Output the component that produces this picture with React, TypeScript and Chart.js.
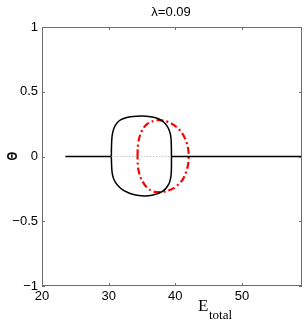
import React, { useEffect, useRef } from "react";
import { Chart, registerables } from "chart.js";

Chart.register(...registerables);

const xTicks = [20, 30, 40, 50];
const yTicks = [-1, -0.5, 0, 0.5, 1];

const axisLeftE = [23.5, 30.4];
const axisRightE = [39.42, 59];
const axisMidE = [30.4, 39.42];

const blackLoopE = [
  30.4, 30.42, 30.46, 30.55, 30.72, 30.98, 31.35, 31.85, 32.5, 33.3, 34.2, 35.1, 36.0, 36.9, 37.6, 38.2, 38.7, 39.05, 39.28, 39.38, 39.42,
  39.41, 39.35, 39.2, 38.95, 38.55, 38.0, 37.3, 36.5, 35.5, 34.5, 33.6, 32.8, 32.05, 31.45, 31.0, 30.7, 30.52, 30.44, 30.4,
];
const blackLoopTheta = [
  0, 0.07, 0.125, 0.17, 0.207, 0.238, 0.264, 0.284, 0.298, 0.307, 0.311, 0.312, 0.309, 0.301, 0.288, 0.268, 0.24, 0.207, 0.168, 0.12, 0,
  -0.1, -0.15, -0.188, -0.22, -0.248, -0.271, -0.288, -0.299, -0.305, -0.302, -0.292, -0.276, -0.255, -0.228, -0.198, -0.165, -0.125, -0.07, 0,
];

const redLoopE = [
  34.33, 34.37, 34.5, 34.75, 35.1, 35.7, 36.5, 37.4, 38.4, 39.4, 40.3, 40.95, 41.45, 41.8, 41.97, 42.0,
  41.95, 41.8, 41.5, 41.1, 40.5, 39.7, 38.75, 37.8, 36.9, 36.2, 35.6, 35.05, 34.7, 34.45, 34.35, 34.33,
];
const redLoopTheta = [
  0, 0.07, 0.125, 0.17, 0.21, 0.248, 0.271, 0.281, 0.275, 0.255, 0.222, 0.185, 0.14, 0.09, 0.04, 0,
  -0.05, -0.09, -0.136, -0.178, -0.213, -0.246, -0.266, -0.274, -0.273, -0.258, -0.232, -0.19, -0.15, -0.1, -0.05, 0,
];

const titleText = "λ=0.09";

const pts = (xs: number[], ys: number[]) => xs.map((x, i) => ({ x, y: ys[i] }));
const fmt = (v: number) => (v < 0 ? "\u2212" + String(-v) : String(v));

const framePlugin = {
  id: "frame",
  afterDraw(chart: any) {
    const { ctx, chartArea: a, scales } = chart;
    const xs = scales.x;
    const ys = scales.y;
    ctx.save();
    ctx.strokeStyle = "#6e6e6e";
    ctx.lineWidth = 1;
    ctx.strokeRect(Math.round(a.left) + 0.5, Math.round(a.top) + 0.5, Math.round(a.right - a.left) - 1, Math.round(a.bottom - a.top) - 1);
    ctx.beginPath();
    const tl = 3;
    xTicks.forEach((v) => {
      const px = Math.round(xs.getPixelForValue(v)) + 0.5;
      ctx.moveTo(px, a.bottom);
      ctx.lineTo(px, a.bottom - tl);
      ctx.moveTo(px, a.top);
      ctx.lineTo(px, a.top + tl);
    });
    yTicks.forEach((v) => {
      const py = Math.round(ys.getPixelForValue(v)) + 0.5;
      ctx.moveTo(a.left, py);
      ctx.lineTo(a.left + tl, py);
      ctx.moveTo(a.right, py);
      ctx.lineTo(a.right - tl, py);
    });
    ctx.stroke();

    ctx.fillStyle = "#000";
    ctx.font = "13px 'Liberation Sans', Arial, sans-serif";
    ctx.textAlign = "center";
    ctx.textBaseline = "middle";
    ctx.fillText(titleText, 171, 12);

    ctx.save();
    ctx.translate(12.5, 156);
    ctx.rotate(-Math.PI / 2);
    ctx.scale(0.75, 1);
    ctx.font = "bold 15px 'Liberation Sans', Arial, sans-serif";
    ctx.fillText("Θ", 0, 0);
    ctx.restore();

    ctx.textAlign = "left";
    ctx.textBaseline = "alphabetic";
    ctx.font = "17px 'Liberation Serif', 'Times New Roman', serif";
    ctx.fillText("E", 198, 311);
    ctx.font = "13px 'Liberation Serif', 'Times New Roman', serif";
    ctx.fillText("total", 209, 319);
    ctx.restore();
  },
};

export default function App() {
  const ref = useRef<HTMLCanvasElement>(null);
  useEffect(() => {
    if (!ref.current) return;
    const chart = new Chart(ref.current, {
      type: "scatter",
      data: {
        datasets: [
          { data: pts(axisMidE, [0, 0]), showLine: true, borderColor: "#a8a8a8", borderWidth: 1, borderDash: [1, 2], pointRadius: 0 },
          { data: pts(axisLeftE, [0, 0]), showLine: true, borderColor: "#000", borderWidth: 1.5, pointRadius: 0 },
          { data: pts(axisRightE, [0, 0]), showLine: true, borderColor: "#000", borderWidth: 1.5, pointRadius: 0 },
          { data: pts(blackLoopE, blackLoopTheta), showLine: true, borderColor: "#000", borderWidth: 1.5, pointRadius: 0, tension: 0.2 },
          { data: pts(redLoopE, redLoopTheta), showLine: true, borderColor: "#ff0000", borderWidth: 2.2, borderDash: [7, 3, 2, 3], pointRadius: 0, tension: 0.3 },
        ],
      },
      options: {
        animation: false,
        responsive: false,
        events: [],
        layout: { padding: { top: 27, right: 3, left: 0, bottom: 0 } },
        plugins: { legend: { display: false }, tooltip: { enabled: false }, title: { display: false } },
        scales: {
          x: {
            type: "linear",
            min: 20,
            max: 59,
            grid: { display: false, drawTicks: false },
            border: { display: false },
            afterFit: (s: any) => { s.height = 35; },
            afterBuildTicks: (s: any) => { s.ticks = xTicks.map((v) => ({ value: v })); },
            ticks: { padding: 3, color: "#000", font: { size: 13, family: "'Liberation Sans', Arial, sans-serif" }, callback: (v: any) => fmt(Number(v)), autoSkip: false, maxRotation: 0 },
          },
          y: {
            type: "linear",
            min: -1,
            max: 1,
            grid: { display: false, drawTicks: false },
            border: { display: false },
            afterFit: (s: any) => { s.width = 42; },
            afterBuildTicks: (s: any) => { s.ticks = yTicks.map((v) => ({ value: v })); },
            ticks: { padding: 4, color: "#000", font: { size: 13, family: "'Liberation Sans', Arial, sans-serif" }, callback: (v: any) => fmt(Number(v)), autoSkip: false },
          },
        },
      },
      plugins: [framePlugin],
    });
    return () => chart.destroy();
  }, []);
  return (
    <div style={{ position: "fixed", left: 0, top: 0, width: 305, height: 321, background: "#fff" }}>
      <canvas ref={ref} width={305} height={321} style={{ display: "block" }} />
    </div>
  );
}
